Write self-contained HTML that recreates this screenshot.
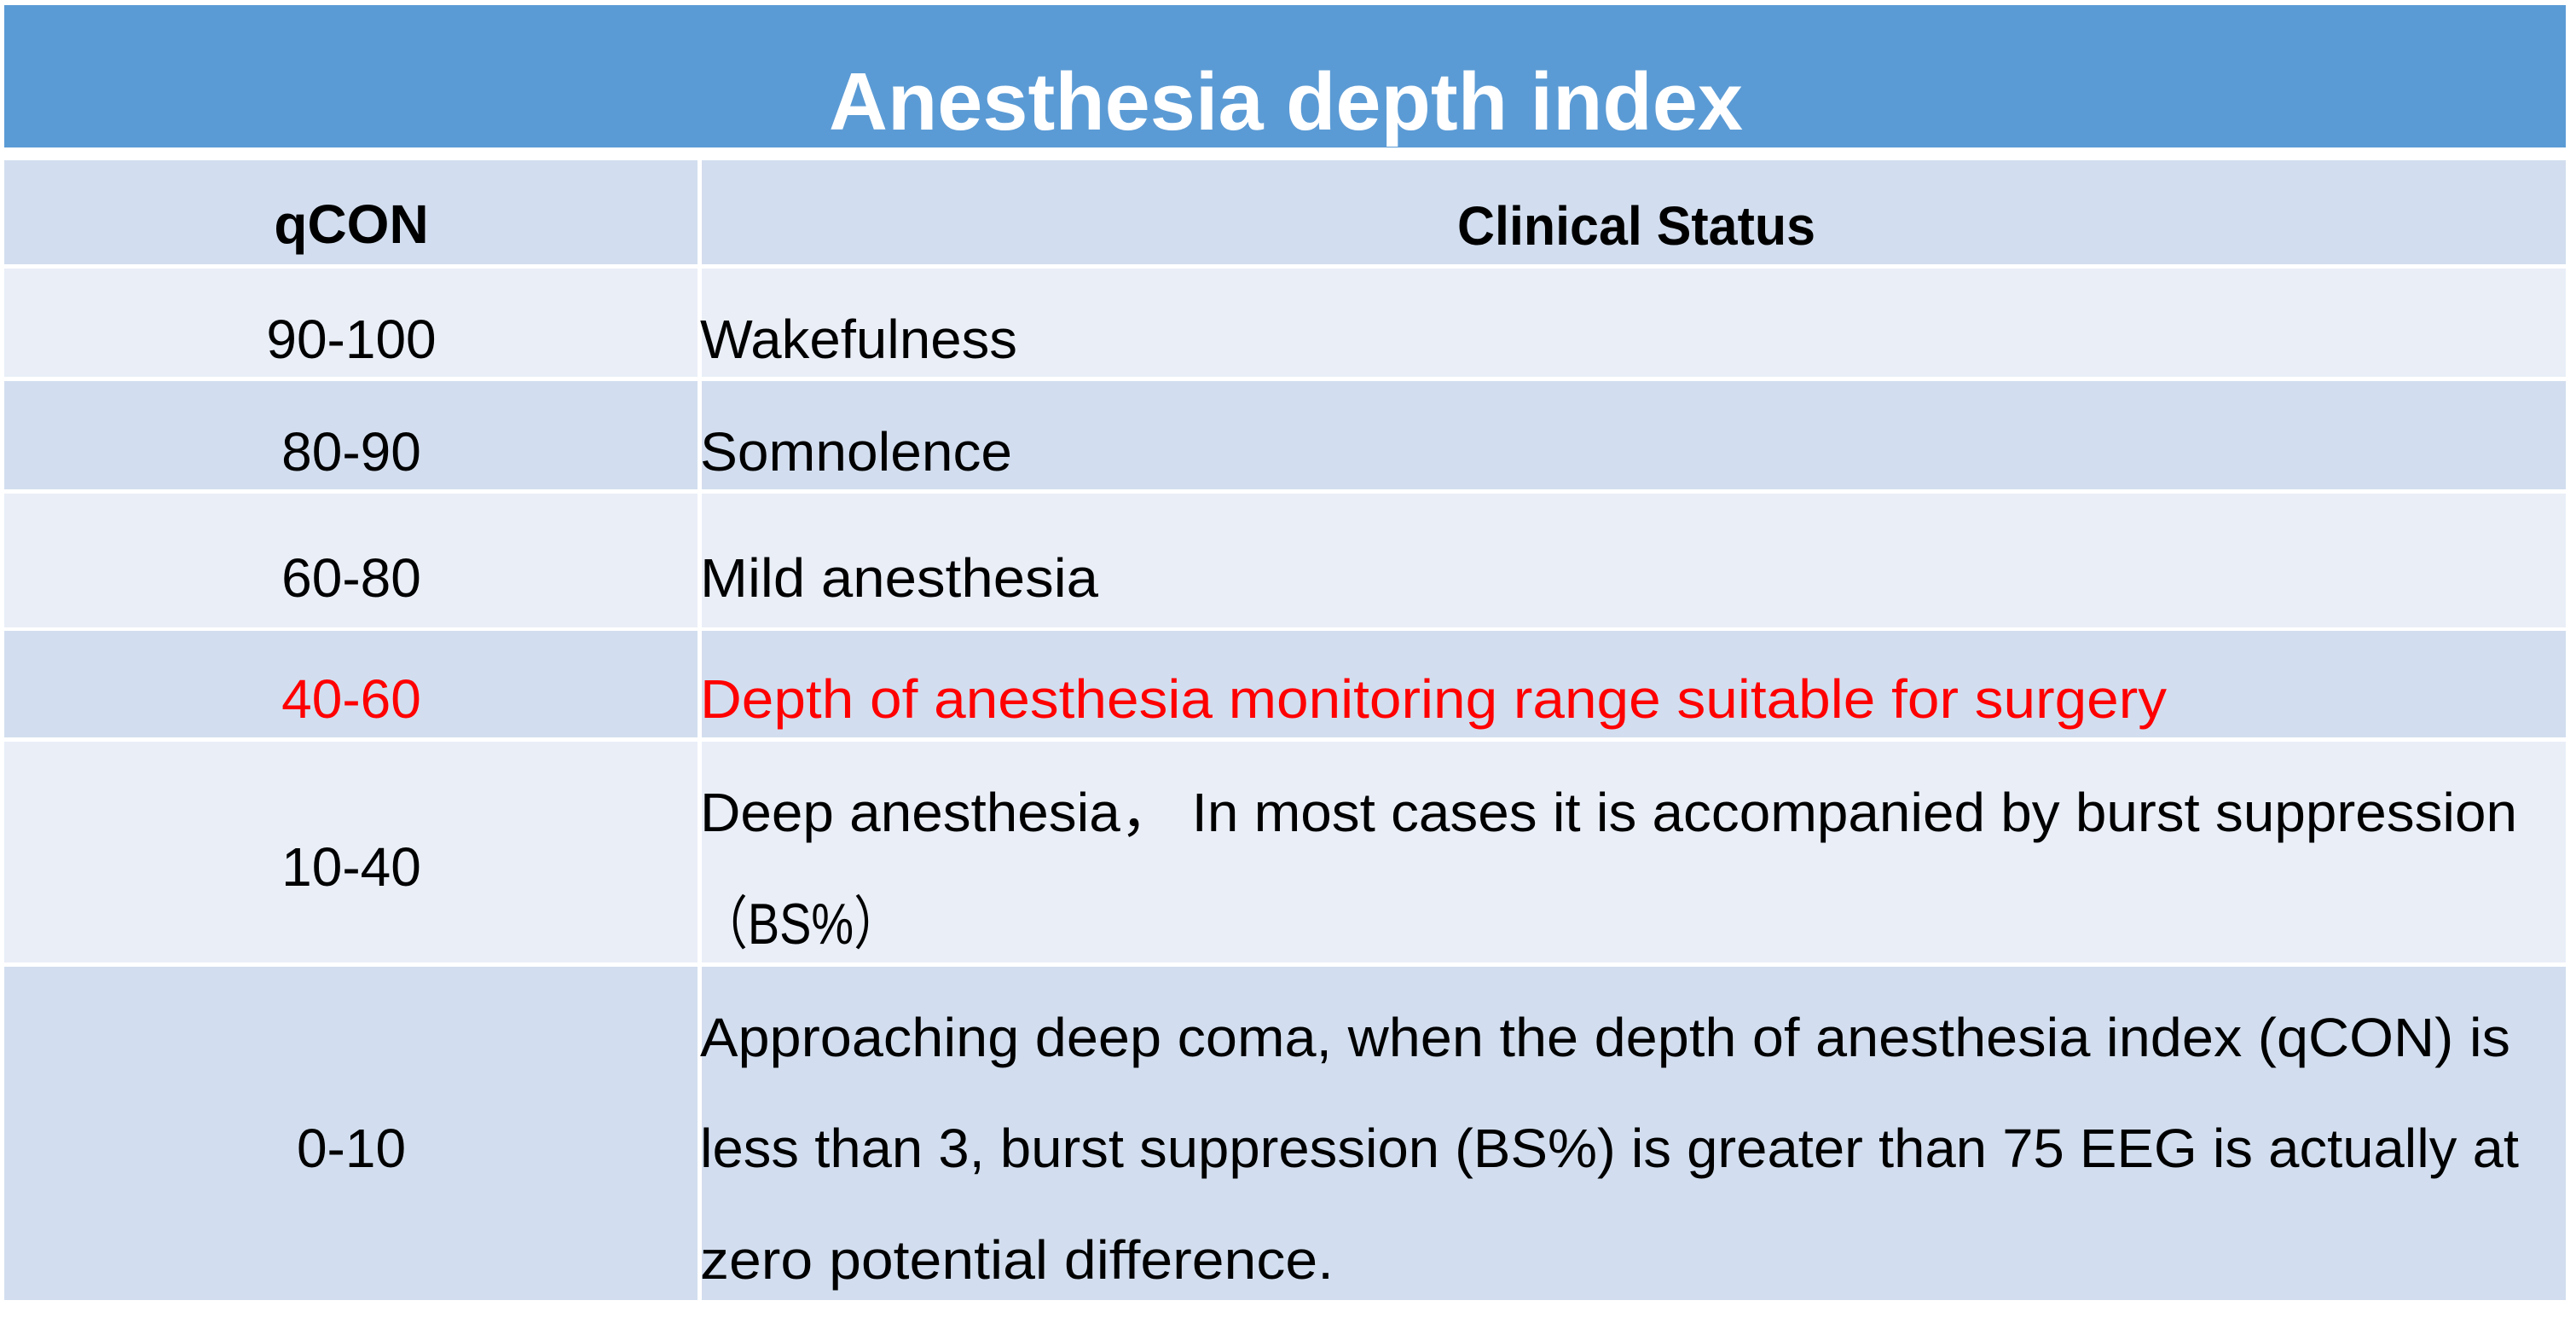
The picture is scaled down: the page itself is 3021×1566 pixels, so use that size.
<!DOCTYPE html>
<html><head><meta charset="utf-8"><style>
html,body{margin:0;padding:0;background:#fff;}
svg{display:block;}
text{font-family:"Liberation Sans","Noto Sans CJK SC",sans-serif;}
</style></head><body>
<svg width="3021" height="1566" viewBox="0 0 3021 1566" xmlns="http://www.w3.org/2000/svg">
<rect x="0" y="0" width="3021" height="1566" fill="#fff"/>
<rect x="5" y="6" width="3004" height="167" fill="#5B9BD5"/>
<text x="972" y="152" font-size="96" font-weight="bold" fill="#fff" textLength="1072" lengthAdjust="spacingAndGlyphs">Anesthesia depth index</text>

<g>
<rect x="5" y="188" width="813" height="122" fill="#D2DEEF"/><rect x="823" y="188" width="2186" height="122" fill="#D2DEEF"/>
<rect x="5" y="315" width="813" height="127" fill="#E9EEF7"/><rect x="823" y="315" width="2186" height="127" fill="#E9EEF7"/>
<rect x="5" y="447" width="813" height="127" fill="#D2DEEF"/><rect x="823" y="447" width="2186" height="127" fill="#D2DEEF"/>
<rect x="5" y="579" width="813" height="157" fill="#E9EEF7"/><rect x="823" y="579" width="2186" height="157" fill="#E9EEF7"/>
<rect x="5" y="740" width="813" height="125" fill="#D2DEEF"/><rect x="823" y="740" width="2186" height="125" fill="#D2DEEF"/>
<rect x="5" y="870" width="813" height="259" fill="#E9EEF7"/><rect x="823" y="870" width="2186" height="259" fill="#E9EEF7"/>
<rect x="5" y="1134" width="813" height="391" fill="#D2DEEF"/><rect x="823" y="1134" width="2186" height="391" fill="#D2DEEF"/>
</g>

<g font-size="64" fill="#000" text-anchor="middle">
<text x="412" y="285" font-weight="bold">qCON</text>
<text x="412" y="420">90-100</text>
<text x="412" y="552">80-90</text>
<text x="412" y="700">60-80</text>
<text x="412" y="842" fill="#FF0000">40-60</text>
<text x="412" y="1039">10-40</text>
<text x="412" y="1369">0-10</text>
</g>

<g font-size="64" fill="#000">
<text x="1709" y="287" font-weight="bold" textLength="420" lengthAdjust="spacingAndGlyphs">Clinical Status</text>
<text x="821" y="420" textLength="372" lengthAdjust="spacingAndGlyphs">Wakefulness</text>
<text x="821" y="552" textLength="366" lengthAdjust="spacingAndGlyphs">Somnolence</text>
<text x="821" y="700" textLength="467" lengthAdjust="spacingAndGlyphs">Mild anesthesia</text>
<text x="821" y="842" fill="#FF0000" textLength="1720" lengthAdjust="spacingAndGlyphs">Depth of anesthesia monitoring range suitable for surgery</text>
<text x="821" y="975" textLength="2131" lengthAdjust="spacingAndGlyphs">Deep anesthesia，  In most cases it is accompanied by burst suppression</text>
<text x="821" y="1107" font-size="68" textLength="236" lengthAdjust="spacingAndGlyphs">（BS%）</text>
<text x="821" y="1239" textLength="2123" lengthAdjust="spacingAndGlyphs">Approaching deep coma, when the depth of anesthesia index (qCON) is</text>
<text x="821" y="1369" textLength="2133" lengthAdjust="spacingAndGlyphs">less than 3, burst suppression (BS%) is greater than 75 EEG is actually at</text>
<text x="821" y="1500" textLength="743" lengthAdjust="spacingAndGlyphs">zero potential difference.</text>
</g>
</svg>
</body></html>
